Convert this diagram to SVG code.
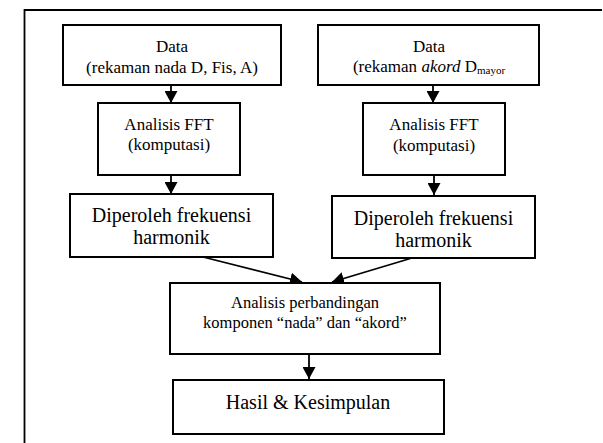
<svg xmlns="http://www.w3.org/2000/svg" width="603" height="443" viewBox="0 0 603 443">
<defs>
<style>
.box{fill:#fff;stroke:#000;stroke-width:2}
.t{font-family:'Liberation Serif','Times New Roman',serif;fill:#000;text-anchor:middle}
.s17{font-size:17px}
.s16{font-size:16.5px}
.s20{font-size:20px}
.c{stroke:#000;stroke-width:1.8;fill:none}
</style>
<marker id="a" viewBox="0 0 10 10" refX="10" refY="5" markerWidth="12" markerHeight="13" markerUnits="userSpaceOnUse" orient="auto" preserveAspectRatio="none">
<path d="M0,0 L10,5 L0,10 z" fill="#000"/>
</marker>
</defs>
<rect width="603" height="443" fill="#fff"/>
<g id="frame">
<path d="M24.5,443 L24.5,10 L602,10" stroke="#000" stroke-width="1.8" fill="none"/>
</g>
<g id="connectors">
<path class="c" d="M171,85 L171,103" marker-end="url(#a)"/>
<path class="c" d="M433,85 L433,103" marker-end="url(#a)"/>
<path class="c" d="M171,175 L171,194" marker-end="url(#a)"/>
<path class="c" d="M434,175 L434,195" marker-end="url(#a)"/>
<path class="c" d="M203,257 L302,282" marker-end="url(#a)"/>
<path class="c" d="M412,258 L332,282" marker-end="url(#a)"/>
<path class="c" d="M309,354 L309,379" marker-end="url(#a)"/>
</g>
<g id="data1" font-family="Liberation Serif, Times New Roman, serif">
<rect class="box" x="63" y="25" width="218" height="60"/>
<text class="t s17" x="172" y="52">Data</text>
<text class="t s17" x="172" y="73">(rekaman nada D, Fis,  A)</text>
</g>
<g id="data2" font-family="Liberation Serif, Times New Roman, serif">
<rect class="box" x="318" y="25" width="221" height="60"/>
<text class="t s17" x="429" y="52">Data</text>
<text class="t s17" x="429" y="72">(rekaman <tspan font-style="italic">akord</tspan> D<tspan font-size="11" dy="2">mayor</tspan></text>
</g>
<g id="fft1" font-family="Liberation Serif, Times New Roman, serif">
<rect class="box" x="98" y="103" width="142" height="72"/>
<text class="t s17" x="169" y="130">Analisis FFT</text>
<text class="t s17" x="169" y="150">(komputasi)</text>
</g>
<g id="fft2" font-family="Liberation Serif, Times New Roman, serif">
<rect class="box" x="363" y="103" width="142" height="72"/>
<text class="t s17" x="434" y="130">Analisis FFT</text>
<text class="t s17" x="434" y="151">(komputasi)</text>
</g>
<g id="harm1" font-family="Liberation Serif, Times New Roman, serif">
<rect class="box" x="70" y="194" width="203" height="63"/>
<text class="t s20" x="171.5" y="222">Diperoleh frekuensi</text>
<text class="t s20" x="171.5" y="244">harmonik</text>
</g>
<g id="harm2" font-family="Liberation Serif, Times New Roman, serif">
<rect class="box" x="332" y="196" width="203" height="62"/>
<text class="t s20" x="433.5" y="225">Diperoleh frekuensi</text>
<text class="t s20" x="433.5" y="247">harmonik</text>
</g>
<g id="compare" font-family="Liberation Serif, Times New Roman, serif">
<rect class="box" x="170" y="283" width="270" height="71"/>
<text class="t s16" x="305" y="308">Analisis perbandingan</text>
<text class="t s16" x="305" y="328">komponen “nada” dan “akord”</text>
</g>
<g id="result" font-family="Liberation Serif, Times New Roman, serif">
<rect class="box" x="173" y="380" width="271" height="54"/>
<text class="t s20" x="308" y="409">Hasil &amp; Kesimpulan</text>
</g>
</svg>
